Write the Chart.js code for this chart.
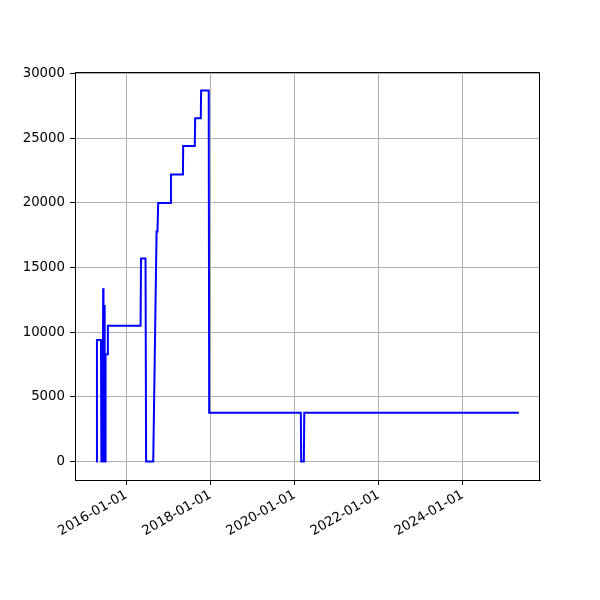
<!DOCTYPE html>
<html>
<head>
<meta charset="utf-8">
<script src="https://cdn.jsdelivr.net/npm/chart.js@4.4.0/dist/chart.umd.min.js"></script>
</head>
<body style="margin:0;background:#ffffff">
<canvas id="chart" width="600" height="600"></canvas>
<script>
// dates and values (step-like series)
const dates = [
  '2015-04-14', '2015-04-21', '2015-05-26', '2015-05-30', '2015-06-10', '2015-06-14',
  '2015-06-17', '2015-06-23', '2015-06-25', '2015-06-29', '2015-07-02', '2015-07-05',
  '2015-07-21', '2015-07-25', '2016-05-04', '2016-05-08', '2016-06-16', '2016-06-21',
  '2016-08-22', '2016-09-20', '2016-09-28', '2016-10-04', '2017-01-19', '2017-01-23',
  '2017-05-07', '2017-05-09', '2017-08-18', '2017-08-21', '2017-10-09', '2017-10-12',
  '2017-12-17', '2017-12-21', '2020-02-25', '2020-02-28', '2020-03-22', '2020-03-26',
  '2025-05-03'
];
const values = [
  0, 9400, 9400, 0, 0, 13400,
  0, 0, 12100, 0, 0, 8300,
  8300, 10500, 10500, 15700, 15700, 0,
  0, 17800, 17800, 20000, 20000, 22200,
  22200, 24400, 24400, 26550, 26550, 28700,
  28700, 3770, 3770, 0, 0, 3770,
  3770
];
const xTickDates = ['2016-01-01', '2018-01-01', '2020-01-01', '2022-01-01', '2024-01-01'];
const yTicks = [0, 5000, 10000, 15000, 20000, 25000, 30000];

let pts = dates.map((d, i) => ({x: Date.parse(d), y: values[i]}));

// matplotlib style 5% margins
let xs = pts.map(p => p.x), ys = pts.map(p => p.y);
let xmin = Math.min(...xs), xmax = Math.max(...xs);
let ymin = Math.min(...ys), ymax = Math.max(...ys);
let xm = (xmax - xmin) * 0.05, ym = (ymax - ymin) * 0.05;

const fontFam = "'DejaVu Sans', sans-serif";

// draws the top and right spines
const frame = {
  id: 'frame',
  afterDraw(chart) {
    let a = chart.chartArea, c = chart.ctx;
    c.save();
    c.strokeStyle = '#000';
    c.lineWidth = 1;
    c.beginPath();
    c.moveTo(a.left, a.top + 0.5);
    c.lineTo(a.right - 0.5, a.top + 0.5);
    c.lineTo(a.right - 0.5, a.bottom);
    c.stroke();
    c.restore();
  }
};

new Chart(document.getElementById('chart'), {
  type: 'line',
  data: {
    datasets: [{
      data: pts,
      borderColor: '#0000ff',
      borderWidth: 2,
      pointRadius: 0,
      tension: 0,
      fill: false
    }]
  },
  options: {
    responsive: false,
    animation: false,
    devicePixelRatio: 1,
    layout: {padding: {left: 0, top: 72, right: 60, bottom: 0}},
    plugins: {legend: {display: false}, tooltip: {enabled: false}},
    scales: {
      x: {
        type: 'linear',
        min: xmin - xm,
        max: xmax + xm,
        afterBuildTicks: s => { s.ticks = xTickDates.map(d => ({value: Date.parse(d)})); },
        afterFit: s => { s.height = 120; },
        ticks: {
          autoSkip: false,
          minRotation: 30,
          maxRotation: 30,
          padding: 2,
          color: '#000',
          font: {family: fontFam, size: 13.3},
          callback: v => new Date(v).toISOString().slice(0, 10)
        },
        grid: {color: '#b0b0b0', lineWidth: 1, tickColor: '#000', tickLength: 5},
        border: {color: '#000', width: 1}
      },
      y: {
        type: 'linear',
        min: ymin - ym,
        max: ymax + ym,
        afterBuildTicks: s => { s.ticks = yTicks.map(v => ({value: v})); },
        afterFit: s => { s.width = 75; },
        ticks: {
          padding: 5,
          color: '#000',
          font: {family: fontFam, size: 13.3},
          callback: v => String(v)
        },
        grid: {color: '#b0b0b0', lineWidth: 1, tickColor: '#000', tickLength: 5},
        border: {color: '#000', width: 1}
      }
    }
  },
  plugins: [frame]
});
</script>
</body>
</html>
